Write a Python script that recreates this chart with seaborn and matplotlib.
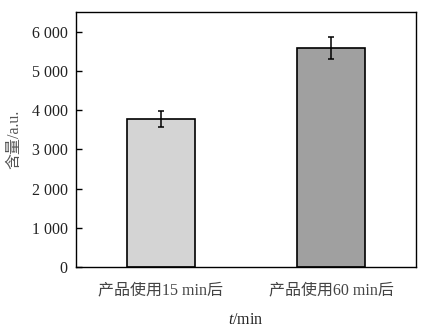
import matplotlib
matplotlib.use("Agg")
import matplotlib.pyplot as plt
import seaborn as sns
import pandas as pd
from matplotlib.ticker import FuncFormatter

categories = ["产品使用15 min后", "产品使用60 min后"]
values = [3770, 5580]
errors = [200, 280]
colors = ["#d4d4d4", "#a0a0a0"]

sns.set_theme(style="white")
plt.rcParams['font.family'] = ['Liberation Serif', 'Noto Sans CJK SC']
plt.rcParams['axes.unicode_minus'] = False
plt.rcParams['mathtext.fontset'] = 'custom'
plt.rcParams['mathtext.rm'] = 'Liberation Serif'
plt.rcParams['mathtext.it'] = 'Liberation Serif:italic'

df = pd.DataFrame({"cat": categories, "val": values})

fig = plt.figure(figsize=(4.35, 3.3), dpi=100)
ax = fig.add_axes([76/435, 1 - 267/330, 340/435, 255/330])

sns.barplot(data=df, x="cat", y="val", hue="cat", palette=colors, legend=False,
            width=0.4, edgecolor="black", linewidth=1.2, errorbar=None, ax=ax)
ax.errorbar(range(len(values)), values, yerr=errors, fmt="none", ecolor="black",
            elinewidth=1.1, capsize=2.3, capthick=1.1)

ax.set_xlim(-0.5, 1.5)
ax.set_ylim(0, 6500)
ax.set_yticks(range(0, 6001, 1000))
ax.yaxis.set_major_formatter(FuncFormatter(lambda v, p: f"{int(v):,}".replace(",", " ")))

for s in ax.spines.values():
    s.set_color("black")
    s.set_linewidth(1.0)

ax.tick_params(axis="both", which="major", direction="in", length=4, width=1,
               colors="black", labelsize=11.5, left=True, bottom=True)
ax.tick_params(axis="x", pad=11, labelcolor="#444444")
ax.tick_params(axis="y", pad=6, labelcolor="#222222")

ax.set_xlabel("$\\it{t}$/min", fontsize=11.5, color="#222222", labelpad=10)
ax.set_ylabel("含量/a.u.", fontsize=11.5, color="#555555", labelpad=7)

fig.savefig("out.png", dpi=100)
